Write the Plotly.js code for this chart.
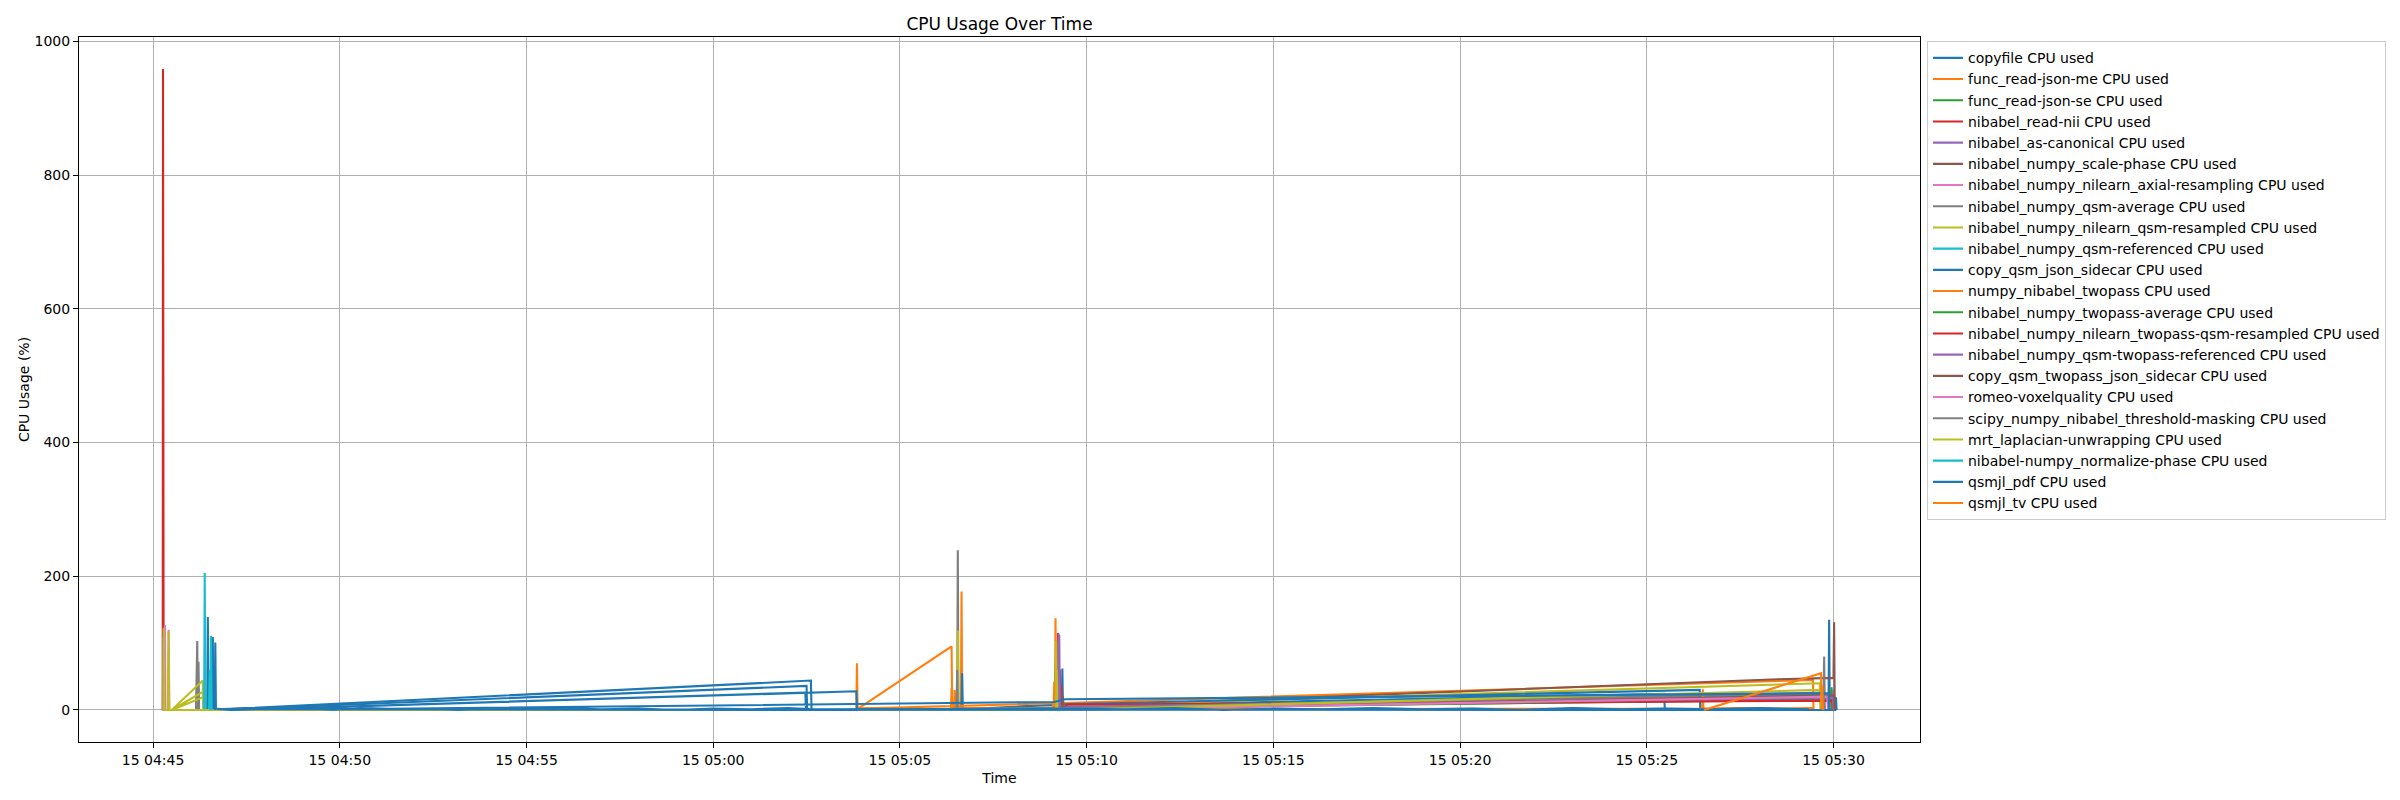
<!DOCTYPE html>
<html>
<head>
<meta charset="utf-8">
<title>CPU Usage Over Time</title>
<script src="https://cdn.plot.ly/plotly-3.0.1.min.js"></script>
<style>
    body { margin: 0; background: #fff; }
    #graph { width: 2400px; height: 800px; }
</style>
</head>
<body>
<div id="graph"></div>
<script>
var day = "2024-05-15 ";

var seriesNames = [
    "copyfile CPU used",
    "func_read-json-me CPU used",
    "func_read-json-se CPU used",
    "nibabel_read-nii CPU used",
    "nibabel_as-canonical CPU used",
    "nibabel_numpy_scale-phase CPU used",
    "nibabel_numpy_nilearn_axial-resampling CPU used",
    "nibabel_numpy_qsm-average CPU used",
    "nibabel_numpy_nilearn_qsm-resampled CPU used",
    "nibabel_numpy_qsm-referenced CPU used",
    "copy_qsm_json_sidecar CPU used",
    "numpy_nibabel_twopass CPU used",
    "nibabel_numpy_twopass-average CPU used",
    "nibabel_numpy_nilearn_twopass-qsm-resampled CPU used",
    "nibabel_numpy_qsm-twopass-referenced CPU used",
    "copy_qsm_twopass_json_sidecar CPU used",
    "romeo-voxelquality CPU used",
    "scipy_numpy_nibabel_threshold-masking CPU used",
    "mrt_laplacian-unwrapping CPU used",
    "nibabel-numpy_normalize-phase CPU used",
    "qsmjl_pdf CPU used",
    "qsmjl_tv CPU used"
];

// samples per step, several runs glued one after the other (that gives the long wrap-around lines)
var copyfileTime = ["04:46:27","04:46:28","04:46:29","04:46:34","05:02:37","05:02:38","05:09:20","05:09:21","05:09:22","05:09:30","05:25:28","05:25:29","05:29:52","05:29:53","05:29:54"];
var copyfileCpu = [0,139,1,0,44,0,0,62,1,6,24,0,0,135,0];

var jsonMeTime = ["05:03:52","05:04:40","05:05:30","05:06:22","05:06:23","05:06:24","05:06:38","05:06:39","05:06:40","05:09:09","05:09:10","05:09:11","05:29:27","05:29:28"];
var jsonMeCpu = [2,3,2,0,33,0,0,177,2,0,137,10,45,0];

var jsonSeTime = ["05:09:10","05:09:11","05:09:12","05:09:20","05:29:56","05:29:57","05:29:58"];
var jsonSeCpu = [0,100,1,2,20,34,0];

var readNiiTime = ["04:45:15.5","04:45:16","04:45:16.5","04:45:17","05:09:13","05:09:14","05:09:15","05:09:25","05:29:59","05:30:00"];
var readNiiCpu = [0,958.5,505,0,0,115,1,4,15,0];

var canonicalTime = ["04:45:15.8","04:45:16.2","04:45:17","05:09:14","05:09:15","05:09:16","05:09:25","05:29:59","05:30:00","05:30:01"];
var canonicalCpu = [0,109,0,0,114,2,3,20,30,0];

var scalePhaseTime = ["05:09:19","05:09:20","05:09:21","05:09:30","05:28:30","05:30:00","05:30:01","05:30:02"];
var scalePhaseCpu = [0,37,3,5,46,48,131,0];

var axialTime = ["04:45:18","04:45:19","04:45:20","05:09:15","05:09:25","05:29:55","05:29:56"];
var axialCpu = [0,127,0,0,3,22,0];

var qsmAvgTime = ["04:46:09","04:46:11","04:46:12","04:46:13","04:46:14","05:06:32","05:06:33","05:06:34","05:09:30","05:29:44","05:29:45","05:29:46"];
var qsmAvgCpu = [0,103,0,72,0,0,239,2,4,24,80,0];

var qsmResTime = ["04:45:16.5","04:45:17","04:45:18","04:45:30","04:46:20","04:46:20.5","04:45:30","04:46:20","04:46:20.5","04:45:30","04:46:20","04:46:21","05:06:32","05:06:33","05:06:34","05:09:10","05:09:11","05:09:12","05:09:30","05:29:38","05:29:39"];
var qsmResCpu = [0,123,0,0,44,0,0,27,0,0,19,0,0,119,1,0,103,2,6,40,0];

var qsmRefTime = ["04:46:22","04:46:23","04:46:24","04:46:30","04:46:31","04:46:32"];
var qsmRefCpu = [0,205,0,0,60,0];

var sidecarTime = ["04:46:35","04:46:36","04:46:37","04:46:45","05:02:30","05:02:31","05:06:39","05:06:40","05:06:41","05:09:35","05:26:25","05:26:26","05:30:03","05:30:04","05:30:05"];
var sidecarCpu = [0,109,1,0,36,0,0,55,1,9,30,0,0,19,0];

var twopassTime = ["05:03:50","05:03:51","05:03:52","05:09:06","05:09:07","05:03:53","05:06:23","05:06:24","05:06:27","05:06:28","05:06:29","05:07:30","05:08:30","05:09:07","05:09:08","05:09:09","05:26:29","05:26:30","05:26:31","05:27:30","05:28:30","05:29:26","05:29:27"];
var twopassCpu = [0,70,2,10,0,2,95,2,1,30,3,2,3,2,42,1,2,31,2,3,2,3,0];

var twopassAvgTime = ["05:09:12","05:09:13","05:09:14","05:09:30","05:29:55","05:29:56","05:29:57"];
var twopassAvgCpu = [0,30,0,2,16,26,0];

var twopassResTime = ["05:09:16","05:09:17","05:09:18","05:09:30","05:29:58","05:29:59"];
var twopassResCpu = [0,60,1,8,14,0];

var twopassRefTime = ["05:09:15","05:09:16","05:09:17","05:09:30","05:29:58","05:29:59","05:30:00"];
var twopassRefCpu = [0,112,0,5,18,25,0];

var twopassSidecarTime = ["05:09:21","05:09:22","05:09:23","05:29:40","05:30:01","05:30:02"];
var twopassSidecarCpu = [0,20,0,22,22,0];

var romeoTime = ["04:45:24","04:45:25","04:45:26","05:09:20","05:29:50","05:29:51"];
var romeoCpu = [0,120,0,0,20,0];

var maskingTime = ["05:06:31","05:06:32","05:06:33","05:09:30","05:29:44","05:29:45"];
var maskingCpu = [0,60,0,3,26,0];

var laplacianTime = ["04:45:24","04:45:25","04:45:26","04:46:14","05:09:11","05:09:12","05:09:13","05:29:40","05:29:41"];
var laplacianCpu = [0,117,0,0,0,60,0,30,0];

var normalizeTime = ["04:46:32","04:46:33","04:46:34"];
var normalizeCpu = [0,111,0];

var pdfTime = ["04:46:39","04:46:40","04:46:41","04:47:05","05:02:28","05:02:29","04:48:20","05:03:50","05:03:51","04:50:00","05:09:08","05:09:25","05:29:52","05:29:53",
    "04:46:45","04:47:30","04:48:10","04:49:00","04:49:50","04:50:40","04:51:30","04:52:20","04:53:10","04:54:00","04:55:00","04:56:00","04:57:00","04:58:00","04:59:00","05:00:00","05:01:00","05:02:00","05:02:40",
    "05:09:40","05:11:00","05:12:20","05:13:40","05:15:00","05:16:20","05:17:40","05:19:00","05:20:20","05:21:40","05:23:00","05:24:20","05:25:30","05:26:40","05:28:00","05:29:20"];
var pdfCpu = [0,101,2,0,26,0,2,28,0,1,12,16,25,0,
    1,3,1,2,0,3,1,2,0,2,1,3,1,2,0,2,1,3,1,
    2,1,3,0,2,1,3,1,2,0,3,1,2,1,3,1];

var tvTime = ["05:26:32","05:29:40","05:29:41","05:29:42","05:29:43"];
var tvCpu = [0,55,1,37,0];

var seriesTimes = [copyfileTime, jsonMeTime, jsonSeTime, readNiiTime, canonicalTime, scalePhaseTime, axialTime, qsmAvgTime, qsmResTime, qsmRefTime,
    sidecarTime, twopassTime, twopassAvgTime, twopassResTime, twopassRefTime, twopassSidecarTime, romeoTime, maskingTime, laplacianTime, normalizeTime,
    pdfTime, tvTime];
var seriesCpu = [copyfileCpu, jsonMeCpu, jsonSeCpu, readNiiCpu, canonicalCpu, scalePhaseCpu, axialCpu, qsmAvgCpu, qsmResCpu, qsmRefCpu,
    sidecarCpu, twopassCpu, twopassAvgCpu, twopassResCpu, twopassRefCpu, twopassSidecarCpu, romeoCpu, maskingCpu, laplacianCpu, normalizeCpu,
    pdfCpu, tvCpu];

// matplotlib tab10, cycling
var palette = ["#1f77b4","#ff7f0e","#2ca02c","#d62728","#9467bd","#8c564b","#e377c2","#7f7f7f","#bcbd22","#17becf"];

function graph(){
    var data = [];
    for (var i = 0; i < seriesNames.length; i++) {
        data.push({
            x: seriesTimes[i].map(function (t) { return day + t; }),
            y: seriesCpu[i],
            name: seriesNames[i],
            type: 'scatter',
            mode: 'lines',
            line: {color: palette[i % palette.length], width: 2.1}
        });
    }

    var axisFont = {family: "DejaVu Sans", size: 14, color: "#000"};
    var layout = {
        width: 2400,
        height: 800,
        margin: {l: 79, r: 480, t: 37, b: 58},
        paper_bgcolor: "#fff",
        plot_bgcolor: "#fff",
        font: axisFont,
        showlegend: true,
        hovermode: false,
        title: {
            text: "CPU Usage Over Time",
            font: {family: "DejaVu Sans", size: 17, color: "#000"},
            x: 0.5, xref: "paper", xanchor: "center",
            y: 1, yref: "paper", yanchor: "bottom",
            pad: {b: 7}
        },
        xaxis: {
            type: "date",
            range: [day + "04:43:01", day + "05:32:19"],
            tick0: day + "04:45:00",
            dtick: 300000,
            tickformat: "%d %H:%M",
            ticks: "outside", ticklen: 5, tickwidth: 1, tickcolor: "#000",
            showline: true, linecolor: "#000", linewidth: 1, mirror: true,
            showgrid: true, gridcolor: "#b0b0b0", gridwidth: 1,
            zeroline: false,
            tickfont: axisFont,
            title: {text: "Time", font: axisFont, standoff: 6},
            automargin: false
        },
        yaxis: {
            range: [-47.9, 1006.5],
            tick0: 0,
            dtick: 200,
            ticks: "outside", ticklen: 5, tickwidth: 1, tickcolor: "#000",
            showline: true, linecolor: "#000", linewidth: 1, mirror: true,
            showgrid: true, gridcolor: "#b0b0b0", gridwidth: 1,
            zeroline: false,
            tickfont: axisFont,
            title: {text: "CPU Usage (%)", font: axisFont, standoff: 1},
            automargin: false
        },
        legend: {
            x: 1.0038, xref: "paper", xanchor: "left",
            y: 0.994, yref: "paper", yanchor: "top",
            bgcolor: "rgba(255,255,255,0.8)",
            bordercolor: "#cccccc", borderwidth: 1,
            font: axisFont,
            tracegroupgap: 0
        }
    };

    Plotly.newPlot('graph', data, layout, {displayModeBar: false, staticPlot: true});
}

graph();
</script>
</body>
</html>
